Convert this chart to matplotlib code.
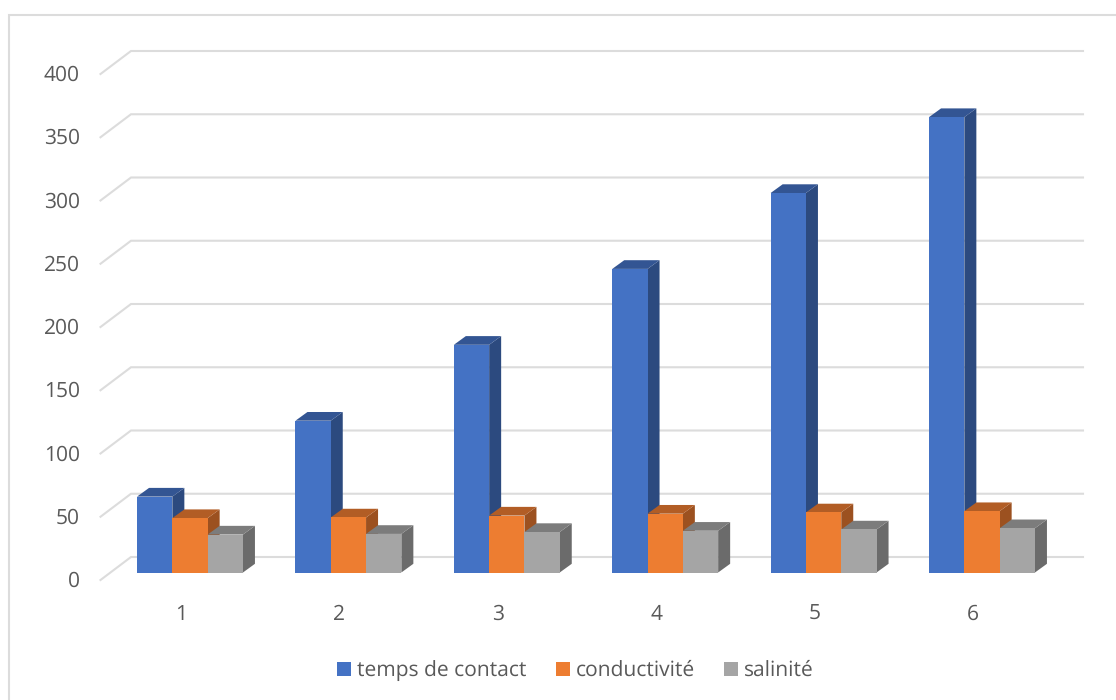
import matplotlib
matplotlib.use("Agg")
import matplotlib.pyplot as plt
from matplotlib.patches import Patch, Polygon, Rectangle

categories = [1, 2, 3, 4, 5, 6]
temps_de_contact = [60, 120, 180, 240, 300, 360]
conductivite = [43, 43.5, 45, 46.5, 47.5, 48.5]
salinite = [30, 30.5, 32, 33, 34, 35]
y_ticks = [0, 50, 100, 150, 200, 250, 300, 350, 400]

series_names = ["temps de contact", "conductivité", "salinité"]
front_colors = ["#4472C4", "#ED7D31", "#A5A5A5"]
top_colors = ["#335593", "#B25D25", "#7C7C7C"]
side_colors = ["#2C4A7F", "#9C5120", "#6B6B6B"]

TEXT = "#595959"
RULE = "#DCDCDC"
W, H = 1116, 700
FONT_SIZE = 15

# Pixel scale of the pseudo-3D plot area
PX_PER_CAT = 158.4
PX_PER_VAL = 1.265
ORIGIN_X = 190.0
ORIGIN_Y = 572.5
BAR_W = 35.3 / PX_PER_CAT
DEPTH_X = 12.0 / PX_PER_CAT
DEPTH_Y = 8.7 / PX_PER_VAL

plt.rcParams["font.family"] = ["Open Sans", "DejaVu Sans"]
plt.rcParams["text.hinting"] = "no_hinting"
plt.rcParams["text.hinting_factor"] = 1
fig = plt.figure(figsize=(W / 100, H / 100), dpi=100, facecolor="white")
ax = fig.add_axes([0, 0, 1, 1])
ax.set_xlim(1 - ORIGIN_X / PX_PER_CAT, 1 + (W - ORIGIN_X) / PX_PER_CAT)
ax.set_ylim((ORIGIN_Y - H) / PX_PER_VAL, ORIGIN_Y / PX_PER_VAL)
ax.axis("off")


def px_x(px):
    return 1 + (px - ORIGIN_X) / PX_PER_CAT


def px_y(px):
    return (ORIGIN_Y - px) / PX_PER_VAL


# Chart frame, open towards the right and bottom edges
ax.plot([px_x(9), px_x(9), px_x(W + 2)], [px_y(H + 2), px_y(15), px_y(15)],
        color=RULE, lw=1.5, solid_joinstyle="miter", zorder=1)

# Gridlines: a slanted stub on the side wall, then the back wall
stub_x0, stub_x1, back_x1 = px_x(100.5), px_x(131), px_x(1083)
for v in y_ticks:
    low = v + px_y(580)
    high = v + px_y(557)
    ax.plot([stub_x0, stub_x1, back_x1], [low, high, high],
            color=RULE, lw=1.5, solid_joinstyle="miter", zorder=1)
    ax.text(px_x(80), low + px_y(574) - px_y(575), str(v), ha="right", va="center_baseline",
            fontsize=FONT_SIZE, color=TEXT)

# Bars with front, top and side faces, left to right so each overlaps the last
for cat_value, cat in enumerate(categories):
    for k, values in enumerate([temps_de_contact, conductivite, salinite]):
        v = values[cat_value]
        x0 = cat + (k - 1.5) * BAR_W
        x1 = x0 + BAR_W
        ax.add_patch(Polygon([(x1, 0), (x1 + DEPTH_X, DEPTH_Y), (x1 + DEPTH_X, v + DEPTH_Y), (x1, v)],
                             closed=True, fc=side_colors[k], ec="none", zorder=3))
        ax.add_patch(Polygon([(x0, v), (x1, v), (x1 + DEPTH_X, v + DEPTH_Y), (x0 + DEPTH_X, v + DEPTH_Y)],
                             closed=True, fc=top_colors[k], ec="none", zorder=3))
        ax.add_patch(Rectangle((x0, 0), BAR_W, v, fc=front_colors[k], ec="none", zorder=3))
    ax.text(px_x(181) + cat - 1, px_y(612), str(cat), ha="center", va="center_baseline",
            fontsize=FONT_SIZE, color=TEXT)

handles = [Patch(fc=c, ec="none") for c in front_colors]
ax.legend(handles, series_names, loc="center", bbox_to_anchor=(575.5 / W, 1 - 670.5 / H),
          bbox_transform=fig.transFigure, ncol=3, frameon=False, fontsize=FONT_SIZE,
          labelcolor=TEXT, handlelength=0.67, handleheight=0.67, handletextpad=0.29,
          columnspacing=1.4, borderpad=0, labelspacing=0)

fig.savefig("out.png", dpi=100, facecolor="white")
